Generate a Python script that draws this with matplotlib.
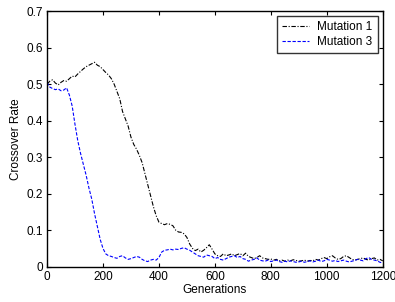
import numpy as np
import matplotlib
matplotlib.use("Agg")
import matplotlib.pyplot as plt

plt.rcParams['font.family'] = ['Liberation Sans', 'DejaVu Sans']

# generations sampled every 10
generations = np.arange(0, 1201, 10)

mutation1 = [
    0.500, 0.508, 0.512, 0.503, 0.498, 0.505, 0.510, 0.508, 0.515, 0.522,
    0.520, 0.528, 0.535, 0.542, 0.548, 0.552, 0.556, 0.560, 0.552, 0.548,
    0.540, 0.532, 0.525, 0.515, 0.500, 0.480, 0.460, 0.425, 0.405, 0.385,
    0.355, 0.335, 0.322, 0.305, 0.285, 0.255, 0.225, 0.195, 0.165, 0.140,
    0.122, 0.118, 0.115, 0.118, 0.116, 0.112, 0.100, 0.095, 0.094, 0.090,
    0.080, 0.062, 0.050, 0.044, 0.048, 0.040, 0.045, 0.052, 0.060, 0.048,
    0.035, 0.030, 0.028, 0.035, 0.030, 0.032, 0.035, 0.030, 0.033, 0.036,
    0.030, 0.037, 0.028, 0.025, 0.022, 0.025, 0.030, 0.024, 0.022, 0.020,
    0.021, 0.018, 0.020, 0.016, 0.018, 0.015, 0.018, 0.016, 0.019, 0.017,
    0.015, 0.016, 0.018, 0.015, 0.017, 0.016, 0.020, 0.018, 0.022, 0.025,
    0.022, 0.027, 0.030, 0.024, 0.020, 0.022, 0.028, 0.030, 0.025, 0.020,
    0.018, 0.020, 0.022, 0.024, 0.020, 0.018, 0.022, 0.024, 0.018, 0.020,
    0.016,
]

mutation3 = [
    0.505, 0.492, 0.488, 0.485, 0.487, 0.482, 0.484, 0.490, 0.470, 0.440,
    0.390, 0.345, 0.310, 0.280, 0.250, 0.215, 0.185, 0.145, 0.110, 0.075,
    0.050, 0.035, 0.030, 0.028, 0.025, 0.023, 0.028, 0.030, 0.024, 0.020,
    0.022, 0.025, 0.028, 0.026, 0.020, 0.016, 0.014, 0.018, 0.020, 0.018,
    0.025, 0.040, 0.045, 0.046, 0.048, 0.046, 0.048, 0.047, 0.050, 0.052,
    0.048, 0.045, 0.040, 0.035, 0.030, 0.028, 0.026, 0.032, 0.030, 0.028,
    0.022, 0.025, 0.020, 0.018, 0.022, 0.026, 0.028, 0.030, 0.025, 0.028,
    0.022, 0.020, 0.015, 0.018, 0.020, 0.024, 0.018, 0.016, 0.015, 0.018,
    0.014, 0.016, 0.018, 0.014, 0.012, 0.015, 0.013, 0.016, 0.014, 0.012,
    0.013, 0.015, 0.012, 0.014, 0.016, 0.013, 0.015, 0.018, 0.014, 0.016,
    0.020, 0.018, 0.015, 0.017, 0.014, 0.016, 0.018, 0.015, 0.013, 0.015,
    0.017, 0.020, 0.018, 0.016, 0.022, 0.025, 0.020, 0.018, 0.016, 0.012,
    0.010,
]

fig = plt.figure(figsize=(3.95, 3.02), dpi=100)
ax = fig.add_axes([0.119, 0.117, 0.850, 0.846])

ax.plot(generations, mutation1, color='black', lw=0.8,
        linestyle=(0, (4, 1.5, 1, 1.5)), label='Mutation 1')
ax.plot(generations, mutation3, color='blue', lw=0.8,
        linestyle=(0, (3, 1.5)), label='Mutation 3')

ax.set_xlim(0, 1200)
ax.set_ylim(0, 0.7)
ax.set_xticks([0, 200, 400, 600, 800, 1000, 1200])
ax.set_yticks([0, 0.1, 0.2, 0.3, 0.4, 0.5, 0.6, 0.7])
ax.set_yticklabels(['0', '0.1', '0.2', '0.3', '0.4', '0.5', '0.6', '0.7'])
ax.tick_params(direction='in', top=True, right=True, labelsize=8.5,
               length=3, width=0.8, pad=3)
for sp in ax.spines.values():
    sp.set_linewidth(1.0)

ax.set_xlabel('Generations', fontsize=8.5, labelpad=1)
ax.set_ylabel('Crossover Rate', fontsize=8.5, labelpad=3)

leg = ax.legend(loc='upper right', fontsize=8.5, frameon=True, fancybox=False,
                borderaxespad=0.4, handlelength=2.3, handletextpad=0.7,
                borderpad=0.45, labelspacing=0.25)
leg.get_frame().set_edgecolor('black')
leg.get_frame().set_linewidth(1.0)

fig.savefig('out.png', dpi=100)
